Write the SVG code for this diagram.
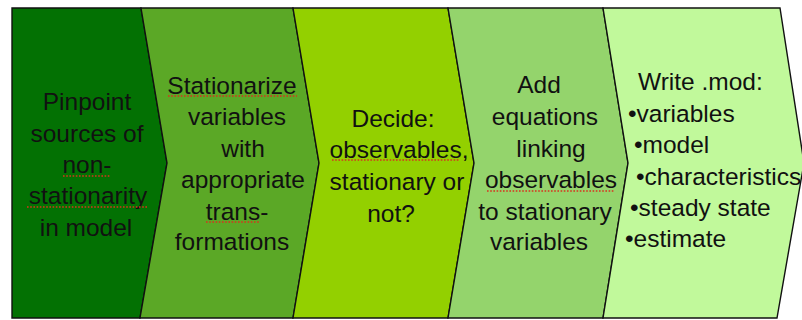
<svg xmlns="http://www.w3.org/2000/svg" width="802" height="320" viewBox="0 0 802 320">
<style>
.s{stroke:#111;stroke-width:1.4;stroke-linejoin:miter}
.t{font-family:"Liberation Sans",Arial,sans-serif;font-size:24.5px;fill:#111;text-anchor:middle}
.l{text-anchor:start}
.u{stroke:#d8321e;stroke-width:1.6;stroke-dasharray:1.6 1.6;fill:none}
</style>
<rect width="802" height="320" fill="#ffffff"/>
<g id="step1">
<polygon class="s" fill="#037103" points="12,8 141,8 167,163 140,318 12,318"/>
<text class="t" x="87" y="110">Pinpoint</text>
<text class="t" x="87" y="141.5">sources of</text>
<text class="t" x="87" y="173">non-</text>
<text class="t" x="88" y="204">stationarity</text>
<text class="t" x="86" y="235.5">in model</text>
<line class="u" x1="63" y1="176" x2="110" y2="176"/>
<line class="u" x1="27" y1="207" x2="148" y2="207"/>
</g>
<g id="step2">
<polygon class="s" fill="#5ba826" points="141,8 293,8 319,163 293,318 140,318 167,163"/>
<text class="t" x="232" y="94">Stationarize</text>
<text class="t" x="237" y="125">variables</text>
<text class="t" x="243" y="157">with</text>
<text class="t" x="243" y="188">appropriate</text>
<text class="t" x="237" y="220">trans-</text>
<text class="t" x="232" y="250">formations</text>
<line class="u" x1="168" y1="96" x2="297" y2="96"/>
<line class="u" x1="206" y1="222" x2="259" y2="222"/>
</g>
<g id="step3">
<polygon class="s" fill="#93d000" points="293,8 448,8 474,163 448,318 293,318 319,163"/>
<text class="t" x="393" y="127">Decide:</text>
<text class="t" x="399" y="158">observables,</text>
<text class="t" x="397" y="190">stationary or</text>
<text class="t" x="391" y="222">not?</text>
<line class="u" x1="332" y1="160" x2="459" y2="160"/>
</g>
<g id="step4">
<polygon class="s" fill="#94d46c" points="448,8 603,8 628,163 603,318 448,318 474,163"/>
<text class="t" x="539" y="93">Add</text>
<text class="t" x="545" y="125">equations</text>
<text class="t" x="551" y="157">linking</text>
<text class="t" x="551" y="188">observables</text>
<text class="t" x="545" y="220">to stationary</text>
<text class="t" x="539" y="250">variables</text>
<line class="u" x1="487" y1="191" x2="615" y2="191"/>
</g>
<g id="step5">
<polygon class="s" fill="#c1f99b" points="603,8 780,8 804,163 777,318 603,318 628,163"/>
<text class="t l" x="638" y="90">Write .mod:</text>
<text class="t l" x="628" y="122">•variables</text>
<text class="t l" x="634" y="153">•model</text>
<text class="t l" x="636" y="185">•characteristics</text>
<text class="t l" x="630" y="216">•steady state</text>
<text class="t l" x="625" y="247">•estimate</text>
</g>
<g id="connectors"/>
</svg>
